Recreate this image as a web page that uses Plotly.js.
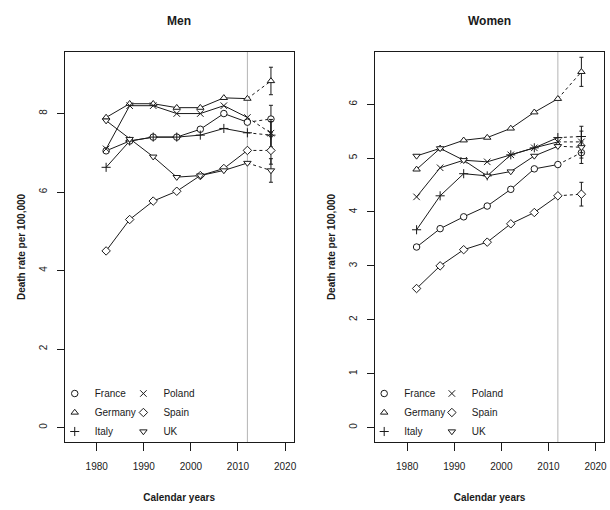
<!DOCTYPE html>
<html><head><meta charset="utf-8">
<script src="https://cdn.plot.ly/plotly-3.0.1.min.js"></script>
<style>html,body{margin:0;padding:0;background:#fff}#chart{width:610px;height:510px}</style>
</head><body><div id="chart"></div>
<script>
// ---------- data ----------
const years = [1982, 1987, 1992, 1997, 2002, 2007, 2012, 2017];
const countries = ['France', 'Germany', 'Italy', 'Poland', 'Spain', 'UK'];

const menFrance  = [7.05, 7.30, 7.40, 7.40, 7.60, 8.00, 7.78, 7.86];
const menGermany = [7.90, 8.25, 8.25, 8.15, 8.15, 8.40, 8.38, 8.83];
const menItaly   = [6.63, 7.30, 7.40, 7.40, 7.45, 7.62, 7.51, 7.45];
const menPoland  = [7.10, 8.20, 8.20, 8.00, 8.00, 8.20, 7.90, 7.50];
const menSpain   = [4.50, 5.30, 5.77, 6.02, 6.42, 6.60, 7.06, 7.06];
const menUK      = [7.82, 7.35, 6.90, 6.38, 6.42, 6.55, 6.74, 6.55];
const menErr2017 = [0.35, 0.35, 0.35, 0.35, 0.35, 0.30];

const womenFrance  = [3.35, 3.69, 3.91, 4.11, 4.42, 4.80, 4.88, 5.10];
const womenGermany = [4.79, 5.18, 5.33, 5.38, 5.55, 5.85, 6.10, 6.60];
const womenItaly   = [3.67, 4.30, 4.71, 4.67, 5.06, 5.19, 5.38, 5.40];
const womenPoland  = [4.28, 4.82, 4.96, 4.93, 5.06, 5.19, 5.30, 5.30];
const womenSpain   = [2.58, 3.00, 3.30, 3.44, 3.78, 3.99, 4.30, 4.33];
const womenUK      = [5.04, 5.18, 4.96, 4.67, 4.75, 5.04, 5.22, 5.20];
const womenErr2017 = [0.20, 0.27, 0.19, 0.20, 0.22, 0.20];

const projectionYear = 2012;
const xTickVals = [1980, 1990, 2000, 2010, 2020];
const menTickVals = [0, 2, 4, 6, 8];
const womenTickVals = [0, 1, 2, 3, 4, 5, 6];
const panelTitles = ['Men', 'Women'];
const xTitle = 'Calendar years';
const yTitle = 'Death rate per 100,000';

// ---------- styling ----------
const FONT = '"Liberation Sans", Arial, Helvetica, sans-serif';
const INK = '#1a1a1a';
const markerStyles = [
  {symbol: 'circle', color: '#fff', line: {color: INK, width: 1}},
  {symbol: 'triangle-up', color: '#fff', line: {color: INK, width: 1}},
  {symbol: 'cross-thin-open', color: INK, line: {color: INK, width: 1}},
  {symbol: 'x-thin-open', color: INK, line: {color: INK, width: 1}},
  {symbol: 'diamond', color: '#fff', line: {color: INK, width: 1}},
  {symbol: 'triangle-down', color: '#fff', line: {color: INK, width: 1}}
];

const menSeries = [menFrance, menGermany, menItaly, menPoland, menSpain, menUK];
const womenSeries = [womenFrance, womenGermany, womenItaly, womenPoland, womenSpain, womenUK];

const nObs = years.indexOf(projectionYear) + 1;
const lineTraces = [], markerTraces = [];

function addPanel(series, errs, xa, ya, legA, legB) {
  series.forEach((vals, i) => {
    lineTraces.push({
      x: years.slice(0, nObs), y: vals.slice(0, nObs), xaxis: xa, yaxis: ya,
      mode: 'lines', line: {color: INK, width: 1}, showlegend: false, hoverinfo: 'skip'
    });
    lineTraces.push({
      x: years.slice(nObs - 1), y: vals.slice(nObs - 1), xaxis: xa, yaxis: ya,
      mode: 'lines', line: {color: INK, width: 1, dash: 'dot'}, showlegend: false, hoverinfo: 'skip'
    });
    const mk = Object.assign({size: 6.5}, markerStyles[i]);
    markerTraces.push({
      x: years.slice(0, nObs), y: vals.slice(0, nObs), xaxis: xa, yaxis: ya,
      mode: 'markers', marker: mk, name: countries[i],
      legend: i < 3 ? legA : legB, showlegend: true
    });
    markerTraces.push({
      x: years.slice(nObs), y: vals.slice(nObs), xaxis: xa, yaxis: ya,
      mode: 'markers', marker: mk, name: countries[i] + ' (predicted)', showlegend: false,
      error_y: {type: 'data', array: [errs[i]], visible: true, color: INK, thickness: 1, width: 2}
    });
  });
}
addPanel(menSeries, menErr2017, 'x', 'y', 'legend', 'legend2');
addPanel(womenSeries, womenErr2017, 'x2', 'y2', 'legend3', 'legend4');

const W = 610, H = 510;
const yDomain = [1 - 442 / H, 1 - 52 / H];

function xAxis(domain, anchor) {
  return {
    domain: domain, anchor: anchor, range: [1973.2, 2021.8],
    tickmode: 'array', tickvals: xTickVals, ticks: 'outside', ticklen: 8, tickcolor: INK,
    ticklabelstandoff: 7,
    showline: true, mirror: true, linecolor: INK, linewidth: 1,
    showgrid: false, zeroline: false,
    tickfont: {family: FONT, size: 10, color: INK},
    title: {text: xTitle, font: {family: FONT, size: 10, color: INK, weight: 'bold'}, standoff: 22},
    automargin: true
  };
}
function yAxis(range, ticks, anchor) {
  return {
    domain: yDomain, anchor: anchor, range: range,
    tickmode: 'array', tickvals: ticks, ticks: 'outside', ticklen: 7, tickcolor: INK,
    tickangle: -90, ticklabelstandoff: 6,
    showline: true, mirror: true, linecolor: INK, linewidth: 1,
    showgrid: false, zeroline: false,
    tickfont: {family: FONT, size: 10, color: INK},
    title: {text: yTitle, font: {family: FONT, size: 10, color: INK, weight: 'bold'}, standoff: 10},
    automargin: true
  };
}
function legendAt(px, topPx) {
  return {
    x: px / W, y: 1 - topPx / H, xanchor: 'left', yanchor: 'top',
    orientation: 'v', bgcolor: 'rgba(0,0,0,0)', borderwidth: 0,
    font: {family: FONT, size: 10, color: INK}, itemwidth: 30, tracegroupgap: 0
  };
}

const layout = {
  width: W, height: H,
  margin: {l: 0, r: 0, t: 0, b: 0},
  paper_bgcolor: '#fff', plot_bgcolor: '#fff',
  font: {family: FONT, color: INK},
  xaxis: xAxis([65 / W, 295 / W], 'y'),
  yaxis: yAxis([-0.368, 9.568], menTickVals, 'x'),
  xaxis2: xAxis([377 / W, 607 / W], 'y2'),
  yaxis2: yAxis([-0.268, 6.968], womenTickVals, 'x2'),
  legend: legendAt(55, 379),
  legend2: legendAt(124, 379),
  legend3: legendAt(366, 379),
  legend4: legendAt(434, 379),
  shapes: [
    {type: 'line', xref: 'x', yref: 'y domain', x0: projectionYear, x1: projectionYear, y0: 0, y1: 1,
     line: {color: '#b5b5b5', width: 1}, layer: 'below'},
    {type: 'line', xref: 'x2', yref: 'y2 domain', x0: projectionYear, x1: projectionYear, y0: 0, y1: 1,
     line: {color: '#b5b5b5', width: 1}, layer: 'below'}
  ],
  annotations: [
    {text: panelTitles[0], xref: 'x domain', x: 0.5, yref: 'paper', y: 1 - 21 / H,
     showarrow: false, xanchor: 'center', yanchor: 'middle',
     font: {family: FONT, size: 12, color: INK, weight: 'bold'}},
    {text: panelTitles[1], xref: 'x2 domain', x: 0.5, yref: 'paper', y: 1 - 21 / H,
     showarrow: false, xanchor: 'center', yanchor: 'middle',
     font: {family: FONT, size: 12, color: INK, weight: 'bold'}}
  ],
  showlegend: true
};

Plotly.newPlot('chart', lineTraces.concat(markerTraces), layout, {displayModeBar: false, staticPlot: true});
</script>
</body></html>
